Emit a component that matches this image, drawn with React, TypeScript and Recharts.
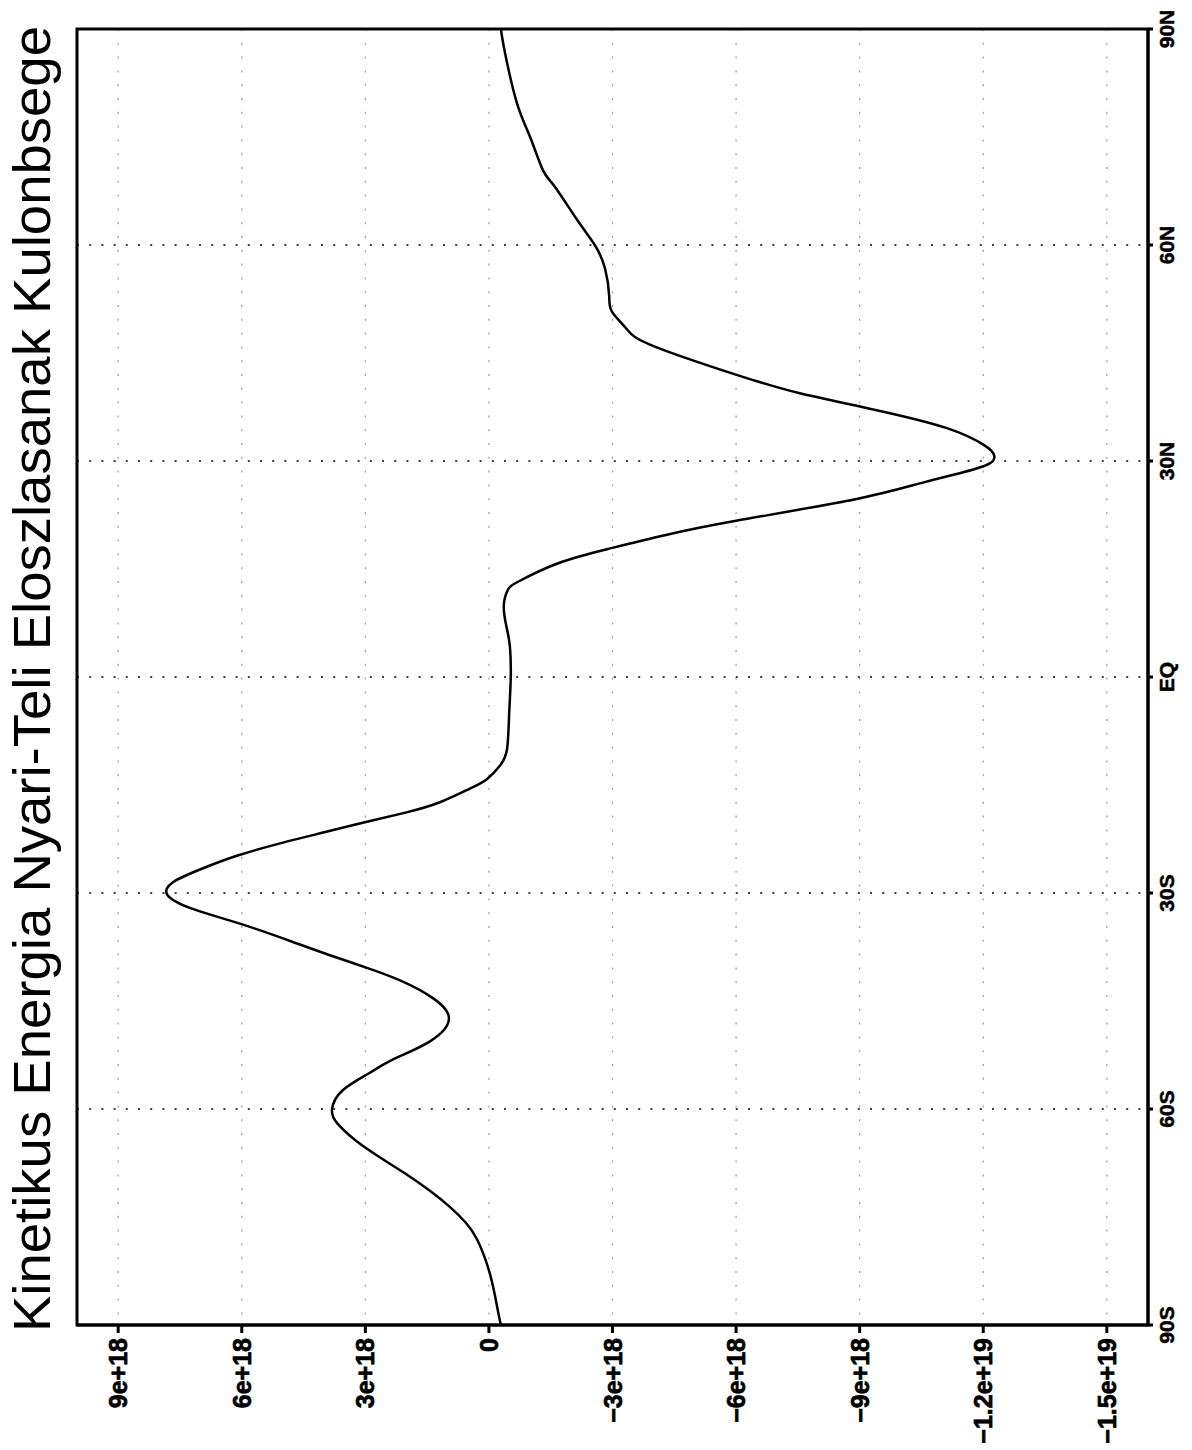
import {
  LineChart,
  Line,
  XAxis,
  YAxis,
  CartesianGrid,
  ReferenceArea,
} from "recharts";

// latitude (deg, negative = south)
const latitudes = [
  -90, -87.5, -82.8, -78.2, -75.8, -73.6, -71.3, -68.9, -66.7, -64.3, -62, -60.1,
  -57.4, -55, -53.2, -50.6, -47.4, -44.6, -42.3, -40.4, -38.5, -36.8, -34.4,
  -32.2, -30.3, -28.5, -26.7, -24.8, -23, -21.5, -20.1, -18.8, -17.4, -15.5,
  -14.2, -12.3, -10, -5.3, 0, 4.2, 6.6, 9.8, 12.1, 13.3, 15.8, 17.8, 19.7,
  21.7, 24.7, 27.1, 29.2, 30.7, 32.1, 34.6, 37.2, 39.4, 41.9, 46, 48.3, 50.7,
  52.9, 56.7, 60, 63.5, 68.1, 70.4, 75, 79.7, 86.7, 90,
];

// summer - winter kinetic energy difference, in units of 1e18
const energyDiff = [
  -0.29, -0.2, -0.02, 0.28, 0.56, 0.95, 1.45, 2.05, 2.65, 3.25, 3.68, 3.81,
  3.55, 2.9, 2.36, 1.43, 0.97, 1.36, 2.09, 2.96, 3.93, 4.76, 5.97,
  7.19, 7.8, 7.67, 7.0, 6.1, 5.0, 3.95, 2.96, 2.0, 1.19, 0.46,
  0.05, -0.27, -0.44, -0.49, -0.53, -0.51, -0.44, -0.36, -0.46, -0.73, -1.68, -2.9, -4.27,
  -6.0, -8.9, -10.6, -11.97, -12.27, -12.05, -11.1, -9.3, -7.55, -6.05, -3.98, -3.35, -2.99,
  -2.92, -2.82, -2.57, -2.14, -1.6, -1.31, -1.0, -0.68, -0.39, -0.29,
];

const valueTicks = [9, 6, 3, 0, -3, -6, -9, -12, -15];
const valueTickLabels = [
  "9e+18", "6e+18", "3e+18", "0", "\u22123e+18", "\u22126e+18",
  "\u22129e+18", "\u22121.2e+19", "\u22121.5e+19",
];
const latTicks = [-90, -60, -30, 0, 30, 60, 90];
const latTickLabels = ["90S", "60S", "30S", "EQ", "30N", "60N", "90N"];

const title = "Kinetikus Energia Nyari-Teli Eloszlasanak Kulonbsege";

const data = latitudes.map((lat, i) => ({ lat, value: energyDiff[i] }));

const FONT = "'Liberation Sans', Arial, Helvetica, sans-serif";

function ValueTick({ x, y, payload }: any) {
  const label = valueTickLabels[valueTicks.indexOf(payload.value)];
  return (
    <g transform={`translate(${x},${y}) rotate(-90)`}>
      <text
        x={0}
        y={9}
        textAnchor="end"
        fontSize={25}
        fontWeight="bold"
        fontFamily={FONT}
        fill="#000"
        stroke="#000"
        strokeWidth={0.7}
      >
        {label}
      </text>
    </g>
  );
}

function LatTick({ x, y, payload }: any) {
  const label = latTickLabels[latTicks.indexOf(payload.value)];
  return (
    <g transform={`translate(${x},${y}) rotate(-90)`}>
      <text
        x={0}
        y={15}
        textAnchor="middle"
        fontSize={21}
        fontWeight="bold"
        fontFamily={FONT}
        fill="#000"
        stroke="#000"
        strokeWidth={0.5}
      >
        {label}
      </text>
    </g>
  );
}

export default function App() {
  return (
    <div style={{ position: "absolute", left: 0, top: 0, width: 1192, height: 1450, background: "#fff" }}>
      <LineChart
        width={1192}
        height={1450}
        layout="vertical"
        data={data}
        margin={{ top: 29, left: 77, right: 4, bottom: 15 }}
      >
        <CartesianGrid horizontal={false} stroke="#9a9a9a" strokeWidth={1.2} strokeDasharray="2 11.8" />
        <CartesianGrid vertical={false} stroke="#000" strokeWidth={1.5} strokeDasharray="2 10.2" />
        <XAxis
          type="number"
          dataKey="value"
          domain={[-16, 10]}
          reversed
          ticks={valueTicks}
          interval={0}
          height={110}
          tickSize={8}
          tickMargin={5}
          axisLine={{ stroke: "#000", strokeWidth: 3 }}
          tickLine={{ stroke: "#000", strokeWidth: 3 }}
          tick={<ValueTick />}
        />
        <YAxis
          type="number"
          dataKey="lat"
          orientation="right"
          domain={[-90, 90]}
          reversed
          ticks={latTicks}
          interval={0}
          width={40}
          tickSize={5}
          tickMargin={6}
          axisLine={{ stroke: "#000", strokeWidth: 3 }}
          tickLine={{ stroke: "#000", strokeWidth: 3 }}
          tick={<LatTick />}
        />
        <ReferenceArea x1={10} x2={-16} y1={-90} y2={90} fill="none" stroke="#000" strokeWidth={3} />
        <Line
          type="natural"
          dataKey="value"
          stroke="#000"
          strokeWidth={2.5}
          dot={false}
          activeDot={false}
          isAnimationActive={false}
        />
      </LineChart>
      <svg width={100} height={1450} style={{ position: "absolute", left: 0, top: 0 }}>
        <text
          transform="translate(50,1332) rotate(-90)"
          x={0}
          y={0}
          fontSize={51}
          fontFamily={FONT}
          textLength={1306}
          lengthAdjust="spacingAndGlyphs"
          fill="#000"
        >
          {title}
        </text>
      </svg>
    </div>
  );
}
